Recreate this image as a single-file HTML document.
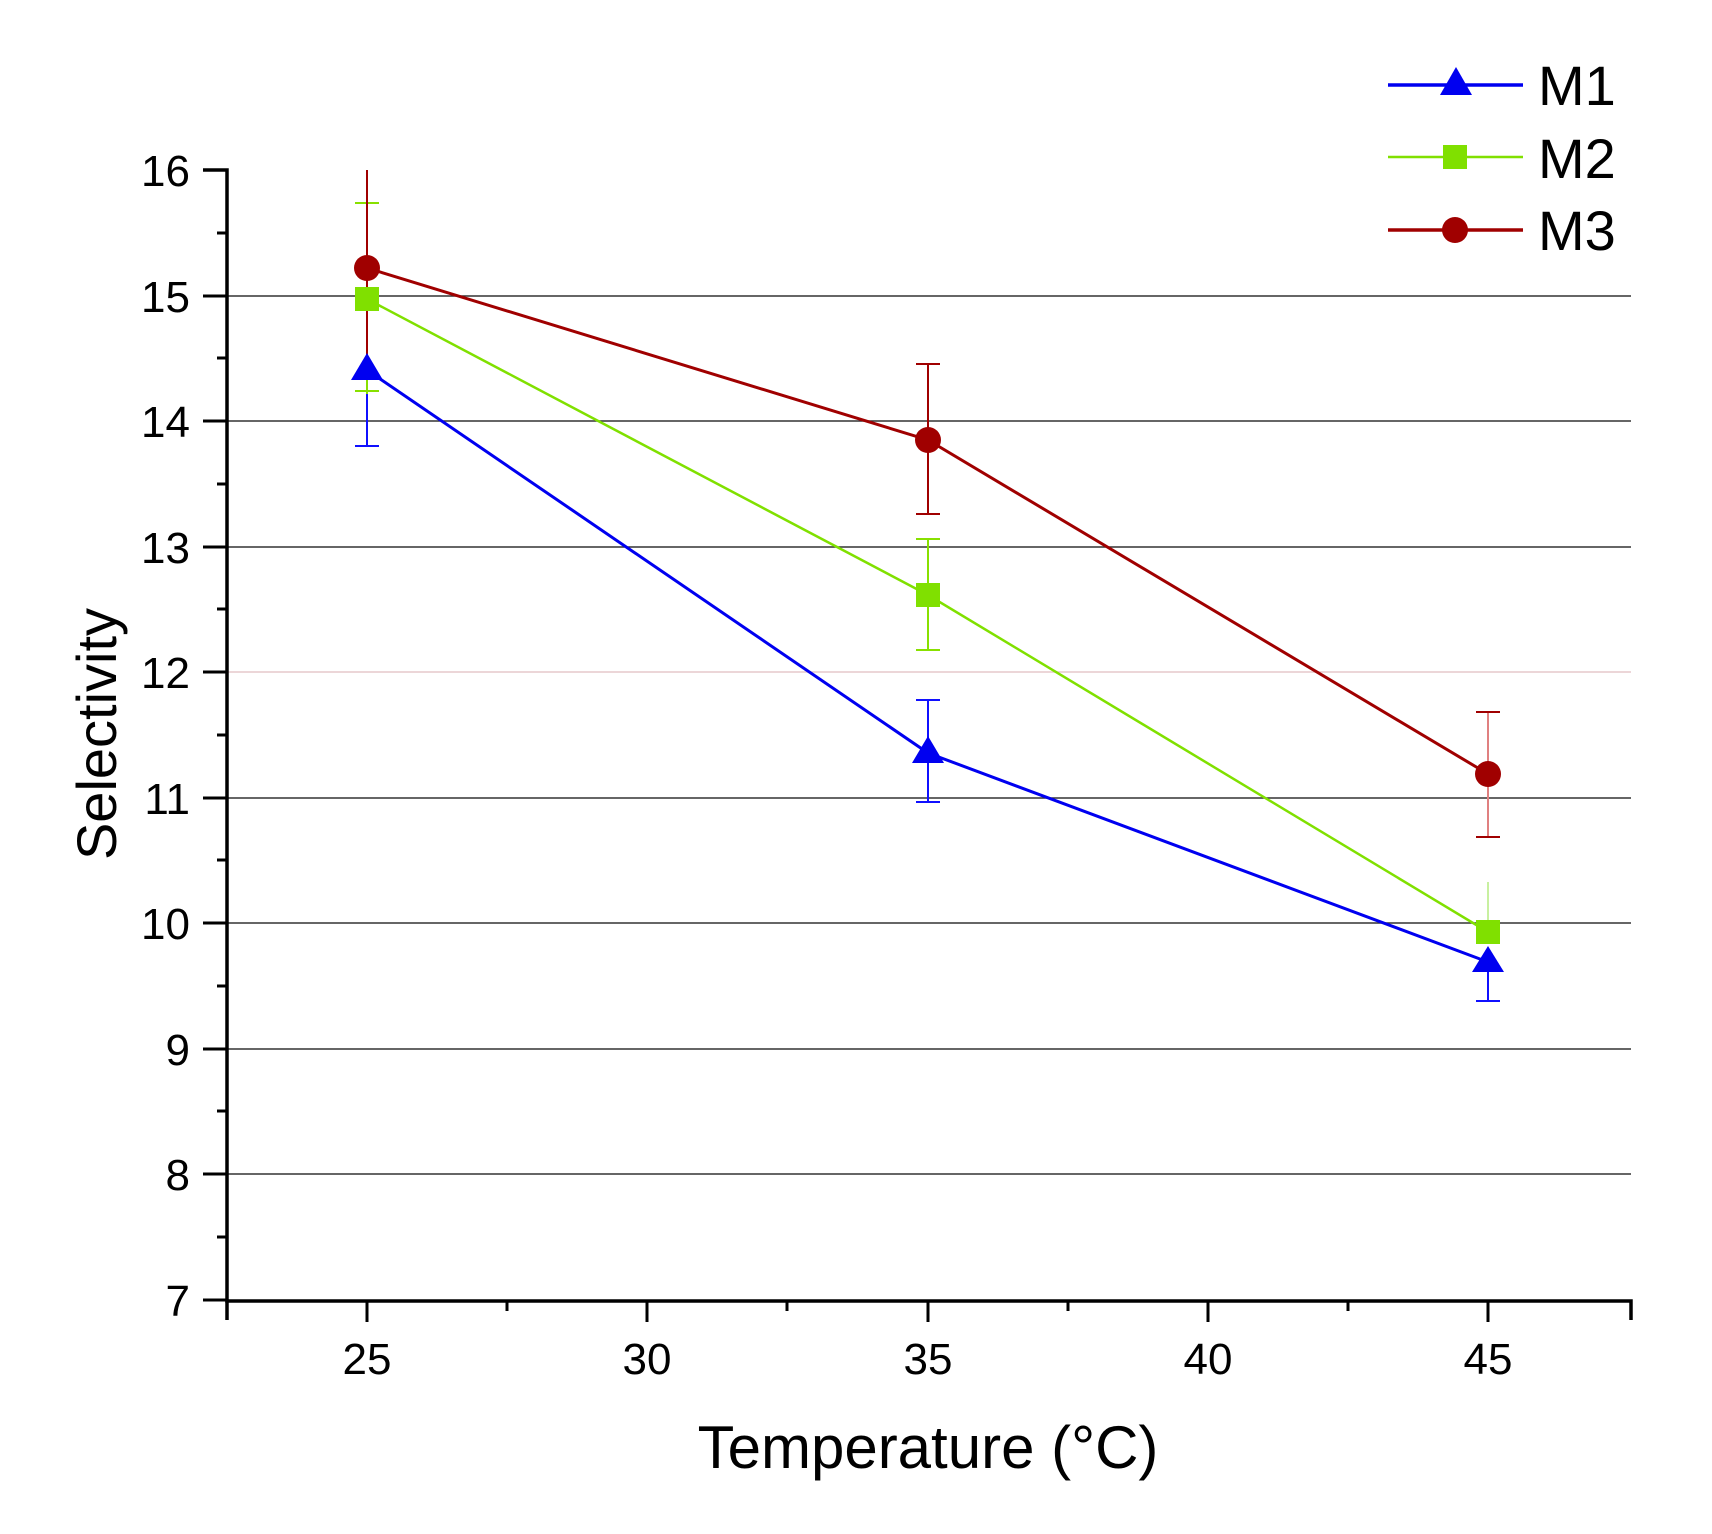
<!DOCTYPE html>
<html><head><meta charset="utf-8"><style>html,body{margin:0;padding:0;background:#fff}</style></head>
<body>
<svg width="1712" height="1529" viewBox="0 0 1712 1529" xmlns="http://www.w3.org/2000/svg" font-family="Liberation Sans, Arial, sans-serif">
<rect width="1712" height="1529" fill="#fff"/>
<g stroke="#333" stroke-width="1.5">
<line x1="203" y1="296" x2="1631" y2="296"/>
<line x1="203" y1="421" x2="1631" y2="421"/>
<line x1="203" y1="547" x2="1631" y2="547"/>
<line x1="203" y1="798" x2="1631" y2="798"/>
<line x1="203" y1="923" x2="1631" y2="923"/>
<line x1="203" y1="1049" x2="1631" y2="1049"/>
<line x1="203" y1="1174" x2="1631" y2="1174"/>
</g>
<line x1="203" y1="672" x2="1631" y2="672" stroke="#e6c8cc" stroke-width="1.5"/>
<g stroke="#000" stroke-width="3.5" fill="none">
<polyline points="203,170 227,170 227,1301 1631,1301 1631,1320"/>
<line x1="227" y1="1301" x2="227" y2="1320"/>
</g>
<g stroke="#000" stroke-width="3">
<line x1="203" y1="296" x2="227" y2="296"/><line x1="203" y1="421" x2="227" y2="421"/>
<line x1="203" y1="547" x2="227" y2="547"/><line x1="203" y1="672" x2="227" y2="672"/>
<line x1="203" y1="798" x2="227" y2="798"/><line x1="203" y1="923" x2="227" y2="923"/>
<line x1="203" y1="1049" x2="227" y2="1049"/><line x1="203" y1="1174" x2="227" y2="1174"/>
<line x1="203" y1="1300" x2="227" y2="1300"/>
<line x1="217" y1="233" x2="227" y2="233"/><line x1="217" y1="358" x2="227" y2="358"/>
<line x1="217" y1="484" x2="227" y2="484"/><line x1="217" y1="609" x2="227" y2="609"/>
<line x1="217" y1="735" x2="227" y2="735"/><line x1="217" y1="860" x2="227" y2="860"/>
<line x1="217" y1="986" x2="227" y2="986"/><line x1="217" y1="1111" x2="227" y2="1111"/>
<line x1="217" y1="1237" x2="227" y2="1237"/>
<line x1="367" y1="1301" x2="367" y2="1322"/><line x1="647" y1="1301" x2="647" y2="1322"/>
<line x1="928" y1="1301" x2="928" y2="1322"/><line x1="1208" y1="1301" x2="1208" y2="1322"/>
<line x1="1488" y1="1301" x2="1488" y2="1322"/>
<line x1="507" y1="1301" x2="507" y2="1311"/><line x1="787" y1="1301" x2="787" y2="1311"/>
<line x1="1068" y1="1301" x2="1068" y2="1311"/><line x1="1348" y1="1301" x2="1348" y2="1311"/>
</g>
<g font-size="44" fill="#000" text-anchor="end">
<text x="190" y="186">16</text><text x="190" y="312">15</text><text x="190" y="437">14</text>
<text x="190" y="563">13</text><text x="190" y="688">12</text><text x="190" y="814">11</text>
<text x="190" y="939">10</text><text x="190" y="1065">9</text><text x="190" y="1190">8</text>
<text x="190" y="1316">7</text>
</g>
<g font-size="44" fill="#000" text-anchor="middle">
<text x="367" y="1374">25</text><text x="647" y="1374">30</text><text x="928" y="1374">35</text>
<text x="1208" y="1374">40</text><text x="1488" y="1374">45</text>
</g>
<text x="928" y="1468" font-size="60" text-anchor="middle">Temperature (°C)</text>
<text transform="translate(116,734) rotate(-90)" font-size="56" text-anchor="middle">Selectivity</text>
<g stroke="#1010ff" stroke-width="2">
<line x1="367" y1="370" x2="367" y2="446"/><line x1="355" y1="446" x2="379" y2="446"/>
<line x1="928" y1="700" x2="928" y2="802"/><line x1="916" y1="700" x2="940" y2="700"/><line x1="916" y1="802" x2="940" y2="802"/>
<line x1="1488" y1="962" x2="1488" y2="1001"/><line x1="1476" y1="1001" x2="1500" y2="1001"/>
</g>
<g stroke="#88e000" stroke-width="2">
<line x1="367" y1="203" x2="367" y2="394"/><line x1="355" y1="203" x2="379" y2="203"/><line x1="355" y1="391" x2="379" y2="391"/>
<line x1="928" y1="539" x2="928" y2="650"/><line x1="916" y1="539" x2="940" y2="539"/><line x1="916" y1="650" x2="940" y2="650"/>
<line x1="1488" y1="882" x2="1488" y2="932" stroke="#c8f0a0"/>
</g>
<g stroke="#a00000" stroke-width="2">
<line x1="367" y1="170" x2="367" y2="372"/>
<line x1="928" y1="364" x2="928" y2="514"/><line x1="916" y1="364" x2="940" y2="364"/><line x1="916" y1="514" x2="940" y2="514"/>
<line x1="1488" y1="712" x2="1488" y2="837" stroke="#e08080"/><line x1="1476" y1="712" x2="1500" y2="712"/><line x1="1476" y1="837" x2="1500" y2="837"/>
</g>
<polyline points="367,370 928,753 1488,962" fill="none" stroke="#0000f0" stroke-width="3"/>
<polyline points="367,299 928,595 1488,932" fill="none" stroke="#80e000" stroke-width="2.5"/>
<polyline points="367,268 928,440 1488,774" fill="none" stroke="#a00000" stroke-width="3"/>
<g fill="#0000f0">
<polygon points="367,353 383,380 351,380"/><polygon points="928,736 944,763 912,763"/><polygon points="1488,946 1504,972 1472,972"/>
</g>
<g fill="#80e000">
<rect x="355" y="287" width="24" height="24"/><rect x="916" y="583" width="24" height="24"/><rect x="1476" y="920" width="24" height="24"/>
</g>
<g fill="#a00000">
<circle cx="367" cy="268" r="13"/><circle cx="928" cy="440" r="13"/><circle cx="1488" cy="774" r="13"/>
</g>
<line x1="1388" y1="85" x2="1523" y2="85" stroke="#0000f0" stroke-width="3.5"/>
<polygon points="1456,67 1472,95 1440,95" fill="#0000f0"/>
<line x1="1388" y1="157" x2="1523" y2="157" stroke="#80e000" stroke-width="2.5"/>
<rect x="1443" y="145" width="24" height="24" fill="#80e000"/>
<line x1="1388" y1="230" x2="1523" y2="230" stroke="#a00000" stroke-width="3.5"/>
<circle cx="1455" cy="230" r="13" fill="#a00000"/>
<g font-size="56" fill="#000">
<text x="1538" y="105">M1</text><text x="1538" y="178">M2</text><text x="1538" y="250">M3</text>
</g>
</svg>
</body></html>
